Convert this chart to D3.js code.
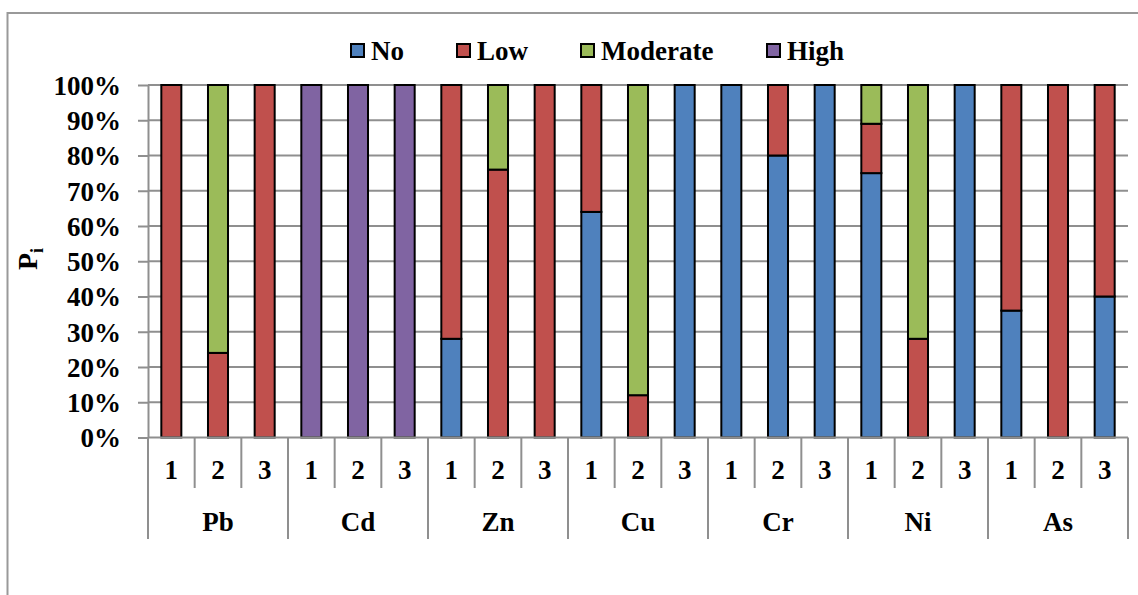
<!DOCTYPE html>
<html>
<head>
<meta charset="utf-8">
<script src="https://cdn.jsdelivr.net/npm/d3@7"></script>
<style>
  html, body { margin: 0; padding: 0; background: #fff; }
  svg { display: block; }
</style>
</head>
<body>
<svg id="chart" width="1138" height="595"></svg>
<script>
// Metals and sampling sites
const categories = ['Pb', 'Cd', 'Zn', 'Cu', 'Cr', 'Ni', 'As'];
const sites = ['1', '2', '3'];
// Share of samples (%) in each pollution class, ordered metal by metal, site 1..3
const noValues       = [0, 0, 0,   0, 0, 0,   28, 0, 0,   64, 0, 100,  100, 80, 100,  75, 0, 100,  36, 0, 40];
const lowValues      = [100, 24, 100,  0, 0, 0,  72, 76, 100,  36, 12, 0,  0, 20, 0,  14, 28, 0,  64, 100, 60];
const moderateValues = [0, 76, 0,  0, 0, 0,  0, 24, 0,  0, 88, 0,  0, 0, 0,  11, 72, 0,  0, 0, 0];
const highValues     = [0, 0, 0,  100, 100, 100,  0, 0, 0,  0, 0, 0,  0, 0, 0,  0, 0, 0,  0, 0, 0];
const seriesNames = ['No', 'Low', 'Moderate', 'High'];
const seriesColors = ['#4F81BD', '#C0504D', '#9BBB59', '#8064A2'];
const yTicks = [0, 10, 20, 30, 40, 50, 60, 70, 80, 90, 100];

const rows = [];
categories.forEach((c, ci) => sites.forEach((s, si) => {
  const i = ci * sites.length + si;
  rows.push({ cat: c, site: s, No: noValues[i], Low: lowValues[i], Moderate: moderateValues[i], High: highValues[i] });
}));

const FONT = '"Liberation Serif", "Times New Roman", serif';
const svg = d3.select('#chart');
const plotLeft = 148, plotRight = 1128, plotTop = 85, plotBottom = 437.5;
const grey = '#8f8f8f';

function label(sel) {
  return sel.style('font-family', FONT).style('font-weight', 'bold').style('font-size', '27px').style('fill', '#000');
}

// chart frame
svg.append('path').attr('d', `M7.5,595 V13 H1138`).attr('fill', 'none').attr('stroke', '#999').attr('stroke-width', 2);

const x0 = d3.scaleBand().domain(categories).range([plotLeft, plotRight]).padding(0);
const x1 = d3.scaleBand().domain(sites).range([0, x0.bandwidth()]).paddingInner(0.571).paddingOuter(0.2855);
const y = d3.scaleLinear().domain([0, 100]).range([plotBottom, plotTop]);

// gridlines
svg.append('g').selectAll('line').data(yTicks.filter(t => t > 0)).join('line')
  .attr('x1', plotLeft).attr('x2', plotRight)
  .attr('y1', d => y(d)).attr('y2', d => y(d))
  .attr('stroke', grey).attr('stroke-width', 2);

// y axis
const yAxis = svg.append('g').attr('transform', `translate(${plotLeft},0)`)
  .call(d3.axisLeft(y).tickValues(yTicks).tickFormat(d => d + '%').tickSize(10).tickPadding(17).tickSizeOuter(0));
yAxis.select('.domain').attr('stroke', grey).attr('stroke-width', 2);
yAxis.selectAll('.tick line').attr('stroke', grey).attr('stroke-width', 2);
label(yAxis.selectAll('.tick text')).attr('dy', '0.35em');

// y title: P with subscript i
const yt = label(svg.append('text')).attr('transform', `translate(37,270) rotate(-90)`).style('font-size', '28px');
yt.append('tspan').text('P');
yt.append('tspan').style('font-size', '18px').attr('dy', 6).text('i');

// stacked bars
const stack = d3.stack().keys(seriesNames)(rows);
const color = d3.scaleOrdinal().domain(seriesNames).range(seriesColors);
svg.append('g').selectAll('g').data(stack).join('g')
  .attr('fill', d => color(d.key))
  .selectAll('rect').data(d => d.filter(p => p[1] - p[0] > 0)).join('rect')
  .attr('x', d => x0(d.data.cat) + x1(d.data.site))
  .attr('width', x1.bandwidth())
  .attr('y', d => y(d[1]))
  .attr('height', d => y(d[0]) - y(d[1]))
  .attr('stroke', '#000').attr('stroke-width', 2);

// x axis: baseline, site dividers, metal dividers
svg.append('line').attr('x1', plotLeft).attr('x2', plotRight).attr('y1', plotBottom).attr('y2', plotBottom)
  .attr('stroke', grey).attr('stroke-width', 2);
const xg = svg.append('g');
categories.forEach(c => {
  const cx = x0(c);
  xg.append('line').attr('x1', cx).attr('x2', cx).attr('y1', plotBottom).attr('y2', 539).attr('stroke', grey).attr('stroke-width', 2);
  sites.forEach((s, si) => {
    if (si > 0) {
      const sx = cx + si * x0.bandwidth() / sites.length;
      xg.append('line').attr('x1', sx).attr('x2', sx).attr('y1', plotBottom).attr('y2', 488).attr('stroke', grey).attr('stroke-width', 2);
    }
    label(xg.append('text')).attr('x', cx + x1(s) + x1.bandwidth() / 2).attr('y', 470)
      .attr('text-anchor', 'middle').attr('dy', '0.35em').text(s);
  });
  label(xg.append('text')).attr('x', cx + x0.bandwidth() / 2).attr('y', 522)
    .attr('text-anchor', 'middle').attr('dy', '0.35em').text(c);
});
xg.append('line').attr('x1', plotRight).attr('x2', plotRight).attr('y1', plotBottom).attr('y2', 539).attr('stroke', grey).attr('stroke-width', 2);

// legend
const legendX = [351, 457, 581, 767];
const lg = svg.append('g');
seriesNames.forEach((n, i) => {
  lg.append('rect').attr('x', legendX[i]).attr('y', 44).attr('width', 13).attr('height', 13)
    .attr('fill', seriesColors[i]).attr('stroke', '#000').attr('stroke-width', 2);
  label(lg.append('text')).attr('x', legendX[i] + 20).attr('y', 50.5).attr('dy', '0.35em').text(n);
});
</script>
</body>
</html>
